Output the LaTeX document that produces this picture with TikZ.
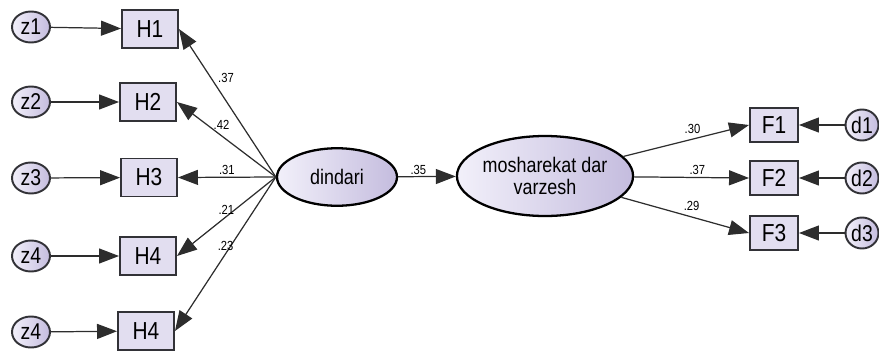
\documentclass[tikz,border=0pt]{standalone}
\usepackage{fontspec}
\setmainfont{Liberation Sans}[FakeStretch=0.85]
\usetikzlibrary{arrows.meta,positioning,shapes.geometric}
\definecolor{lavlight}{RGB}{242,240,250}
\definecolor{lavdark}{RGB}{196,188,222}
\definecolor{lavbox}{RGB}{226,222,240}
\definecolor{rim}{RGB}{50,50,55}
\definecolor{wire}{RGB}{45,45,45}

\begin{document}
\begin{tikzpicture}[
  obs/.style={rectangle,draw=rim,line width=1.1pt,fill=lavbox,minimum width=1.12cm,minimum height=0.76cm,font=\fontsize{14}{15}\selectfont},
  err/.style={ellipse,draw=rim,line width=1.1pt,left color=lavlight,right color=lavdark,inner sep=0pt,minimum width=0.76cm,minimum height=0.62cm,font=\fontsize{13}{14}\selectfont},
  lat/.style={ellipse,draw=black,line width=1.3pt,left color=lavlight,right color=lavdark,align=center,inner sep=0pt,font=\fontsize{12}{13}\selectfont},
  link/.style={-{Triangle[length=4mm,width=3mm]},draw=wire,line width=0.7pt},
  coef/.style={font=\fontsize{7.5}{8}\selectfont,inner sep=1pt}
]
\useasboundingbox (0,0) rectangle (17.58,-7.04);
% \draw[help lines] (0,0) grid (17,-7);
\node (z1) [err] at (0.62,-0.54) {z1};
\node (z2) [err] at (0.62,-2.04) {z2};
\node (z3) [err] at (0.62,-3.56) {z3};
\node (z4) [err] at (0.62,-5.12) {z4};
\node (z5) [err] at (0.62,-6.64) {z4};
%
\node (h1) [obs] at (3.0,-0.58) {H1};
\node (h2) [obs] at (2.96,-2.04) {H2};
\node (h3) [obs] at (2.98,-3.55) {H3};
\node (h4) [obs] at (2.96,-5.12) {H4};
\node (h5) [obs] at (2.92,-6.62) {H4};
%
\node (dindari) [lat,minimum width=2.4cm,minimum height=1.15cm] at (6.74,-3.54) {dindari};
\node (varzesh) [lat,minimum width=3.5cm,minimum height=1.6cm] at (10.9,-3.52) {mosharekat dar\\varzesh};
%
\node (f1) [obs,minimum width=0.96cm,minimum height=0.68cm] at (15.48,-2.5) {F1};
\node (f2) [obs,minimum width=0.96cm,minimum height=0.68cm] at (15.48,-3.56) {F2};
\node (f3) [obs,minimum width=0.96cm,minimum height=0.68cm] at (15.48,-4.66) {F3};
\node (d1) [err,minimum width=0.66cm,minimum height=0.62cm] at (17.24,-2.5) {d1};
\node (d2) [err,minimum width=0.66cm,minimum height=0.62cm] at (17.24,-3.56) {d2};
\node (d3) [err,minimum width=0.66cm,minimum height=0.62cm] at (17.24,-4.66) {d3};
%
\path (z1) edge[link] (h1) (z2) edge[link] (h2) (z3) edge[link] (h3) (z4) edge[link] (h4) (z5) edge[link] (h5);
\path (d1) edge[link] (f1) (d2) edge[link] (f2) (d3) edge[link] (f3);
%
\path (dindari.west) edge[link] node[coef,pos=0.62,above right] {.37} (h1.east);
\path (dindari.west) edge[link] node[coef,pos=0.55,above=2pt] {.42} (h2.east);
\path (dindari.west) edge[link] node[coef,pos=0.5,above] {.31} (h3.east);
\path (dindari.west) edge[link] node[coef,pos=0.5,above] {.21} (h4.east);
\path (dindari.west) edge[link] node[coef,pos=0.45,left=-3pt] {.23} (h5.east);
\path (dindari) edge[link] node[coef,pos=0.35,above] {.35} (varzesh);
%
\path (varzesh) edge[link] node[coef,pos=0.55,above=2pt] {.30} (f1.west);
\path (varzesh) edge[link] node[coef,pos=0.55,above] {.37} (f2.west);
\path (varzesh) edge[link] node[coef,pos=0.55,above=2pt] {.29} (f3.west);
\end{tikzpicture}
\end{document}
